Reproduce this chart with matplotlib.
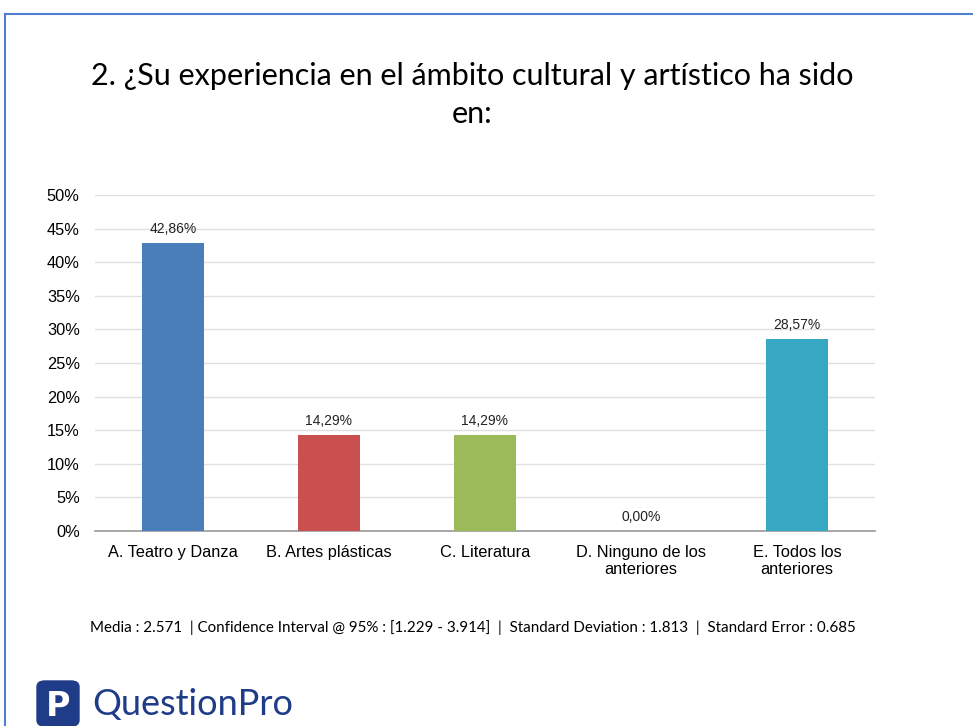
import matplotlib
matplotlib.use("Agg")
import matplotlib.pyplot as plt
from matplotlib.patches import FancyBboxPatch
from matplotlib.lines import Line2D

categories = ["A. Teatro y Danza", "B. Artes plásticas", "C. Literatura",
              "D. Ninguno de los\nanteriores", "E. Todos los\nanteriores"]
values = [42.86, 14.29, 14.29, 0.00, 28.57]
colors = ["#4a7ebb", "#c9504f", "#9bbb59", "#ffffff", "#36a8c3"]
yticks = [0, 5, 10, 15, 20, 25, 30, 35, 40, 45, 50]
title = "2. ¿Su experiencia en el ámbito cultural y artístico ha sido\nen:"
stats = "Media : 2.571  | Confidence Interval @ 95% : [1.229 - 3.914]  |  Standard Deviation : 1.813  |  Standard Error : 0.685"

W, H = 973, 726
fig = plt.figure(figsize=(W / 100, H / 100), dpi=100)
fig.patch.set_facecolor("white")

# border lines
fig.add_artist(Line2D([5 / W, 1], [1 - 14 / H, 1 - 14 / H], color="#4f7fd0", lw=1.5))
fig.add_artist(Line2D([5 / W, 5 / W], [0, 1 - 14 / H], color="#4f7fd0", lw=1.5))

ax = fig.add_axes([95 / W, 1 - 531 / H, 780 / W, (531 - 195) / H])
x = list(range(len(categories)))
bars = ax.bar(x, values, width=0.4, color=colors, zorder=3)
ax.set_xlim(-0.5, 4.5)
ax.set_ylim(0, 50)
ax.set_yticks(yticks)
ax.set_yticklabels([f"{v}%" for v in yticks], fontsize=11.8, family="Liberation Sans")
ax.set_xticks(x)
ax.set_xticklabels(categories, fontsize=11.8, family="Liberation Sans", linespacing=1.2)
ax.tick_params(axis="x", length=0, pad=10)
ax.tick_params(axis="y", length=0, pad=11)
ax.grid(axis="y", color="#e0e0e0", lw=1, zorder=0)
for s in ["top", "right", "left"]:
    ax.spines[s].set_visible(False)
ax.spines["bottom"].set_color("#999999")
ax.spines["bottom"].set_linewidth(1.2)
for xi, v in zip(x, values):
    ax.annotate(f"{v:.2f}%".replace(".", ","), (xi, v), xytext=(0, 5),
                textcoords="offset points", ha="center", va="bottom",
                fontsize=10, family="Liberation Sans", color="#222222")

fig.text(472 / W, 1 - 95 / H, title, ha="center", va="center", fontsize=22,
         family="Lato", linespacing=1.45)

fig.text(473 / W, 1 - 628 / H, stats, ha="center", va="center", fontsize=10.9,
         family="Lato")

# logo
logo = FancyBboxPatch((37 / W, 0.0), 42 / W, 45 / H, boxstyle="round,pad=0,rounding_size=0.008",
                      transform=fig.transFigure, color="#1f3c88", zorder=5)
fig.add_artist(logo)
fig.text(58 / W, 20 / H, "P", ha="center", va="center", fontsize=24, color="white",
         fontweight="bold", family="DejaVu Sans", zorder=6)
fig.text(92 / W, 22 / H, "QuestionPro", ha="left", va="center", fontsize=26,
         color="#1f3c88", family="Lato")

fig.savefig("out.png", dpi=100)
